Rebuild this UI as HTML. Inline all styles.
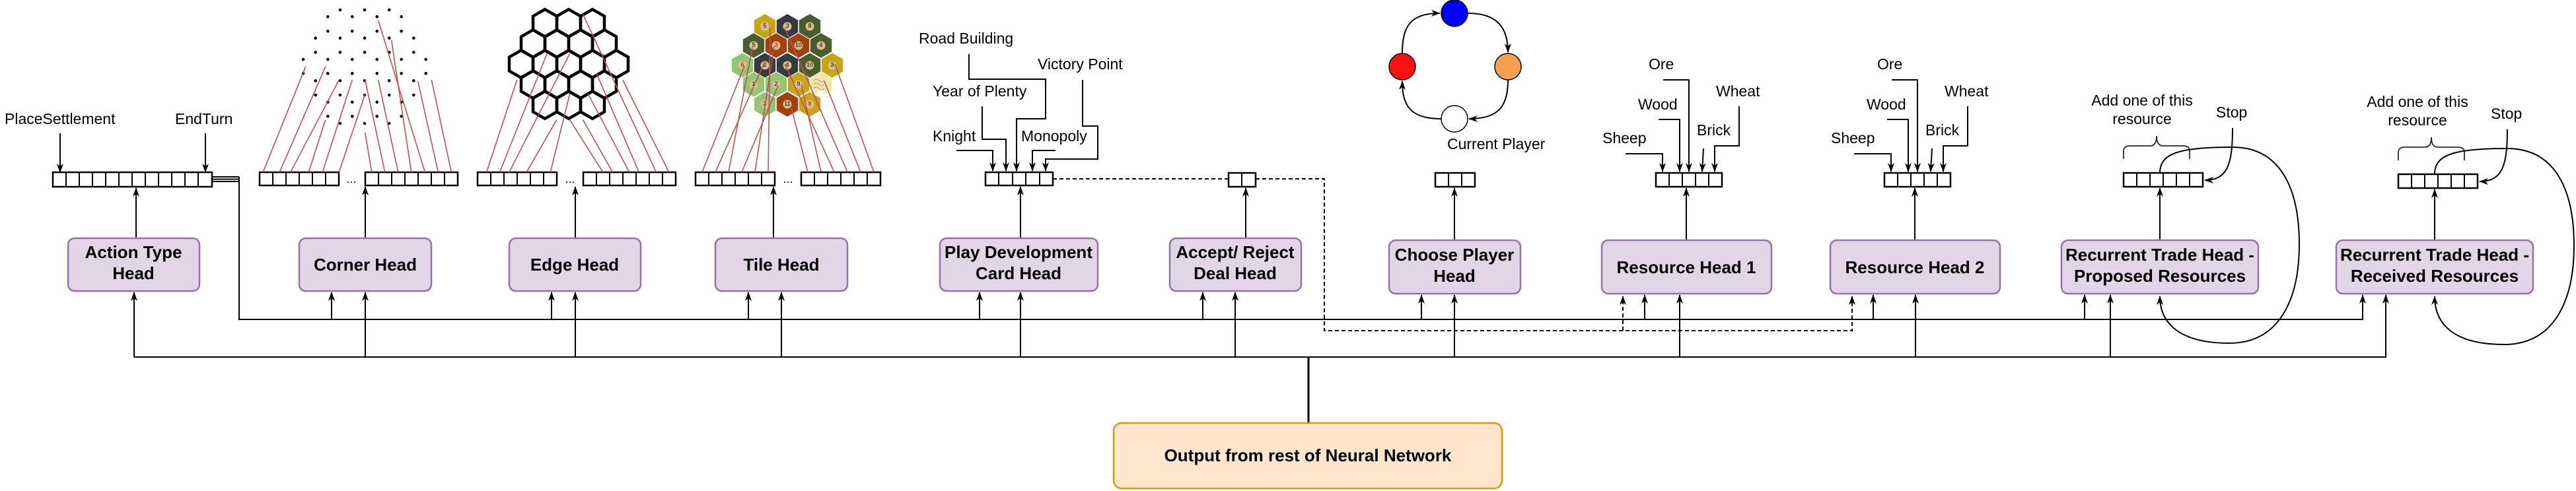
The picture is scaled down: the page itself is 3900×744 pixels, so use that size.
<!DOCTYPE html>
<html><head><meta charset="utf-8"><style>
html,body{margin:0;padding:0;background:#fff;}
svg{display:block;}
.t{font-family:"Liberation Sans",Arial,sans-serif;font-size:23px;fill:#000;dominant-baseline:central;}
.b{font-family:"Liberation Sans",Arial,sans-serif;font-size:26px;font-weight:bold;fill:#000;text-anchor:middle;dominant-baseline:central;}
.n{font-family:"Liberation Sans",Arial,sans-serif;font-size:9px;fill:#000;text-anchor:middle;dominant-baseline:central;}
.box{fill:#e1d5e7;stroke:#9673a6;stroke-width:2.5;}
.v{fill:#fff;stroke:#000;stroke-width:2.5;}
.l{fill:none;stroke:#000;stroke-width:2;}
.r{stroke:#b85450;stroke-width:1.6;}
</style></head><body>
<svg width="3900" height="744" viewBox="0 0 3900 744" xmlns="http://www.w3.org/2000/svg">
<defs>
<marker id="a" viewBox="0 0 14 10" refX="13" refY="5" markerWidth="14" markerHeight="10" markerUnits="userSpaceOnUse" orient="auto"><path d="M0,0 L14,5 L0,10 L4,5z" fill="#000"/></marker>
<polygon id="eh" points="0,-20.8 18,-10.4 18,10.4 0,20.8 -18,10.4 -18,-10.4" fill="none" stroke="#000" stroke-width="4.5"/>
<polygon id="th" points="0,-19.3 16.7,-9.65 16.7,9.65 0,19.3 -16.7,9.65 -16.7,-9.65" stroke="#fff" stroke-width="1"/>
</defs>

<!-- Action type -->
<text class="t" x="7" y="180">PlaceSettlement</text>
<text class="t" x="265" y="180">EndTurn</text>
<path class="l" d="M91,202 V261" marker-end="url(#a)"/>
<path class="l" d="M311,202 V261" marker-end="url(#a)"/>
<g class="v">
<rect x="80" y="261" width="241" height="22"/>
</g>
<path class="l" d="M100,261V283M120,261V283M140,261V283M160,261V283M180,261V283M200,261V283M220,261V283M240,261V283M260,261V283M280,261V283M300,261V283"/>
<path class="l" d="M321,268H362M321,271.5H362M321,275H362M362,268V484H3577V447"/>
<path class="l" d="M206,361V285" marker-end="url(#a)"/>
<rect class="box" x="103" y="361" width="199" height="80" rx="10"/>
<text class="b" x="202" y="382">Action Type</text><text class="b" x="202" y="414">Head</text>

<!-- main line B -->
<path class="l" d="M203,541V443" marker-end="url(#a)"/>
<path class="l" d="M203,541H3612V447" marker-end="url(#a)"/>
<path class="l" d="M3577,484V447" marker-end="url(#a)"/>
<path d="M1981,541V641" stroke="#000" stroke-width="3" fill="none"/>

<!-- branch arrows from A -->
<g class="l">
<path d="M502,484V443" marker-end="url(#a)"/>
<path d="M835,484V443" marker-end="url(#a)"/>
<path d="M1133,484V443" marker-end="url(#a)"/>
<path d="M1483,484V443" marker-end="url(#a)"/>
<path d="M1821,484V443" marker-end="url(#a)"/>
<path d="M2152,484V447" marker-end="url(#a)"/>
<path d="M2490,484V447" marker-end="url(#a)"/>
<path d="M2836,484V447" marker-end="url(#a)"/>
<path d="M3156,484V447" marker-end="url(#a)"/>
<!-- from B -->
<path d="M553,541V443" marker-end="url(#a)"/>
<path d="M871,541V443" marker-end="url(#a)"/>
<path d="M1183,541V443" marker-end="url(#a)"/>
<path d="M1545,541V443" marker-end="url(#a)"/>
<path d="M1870,541V443" marker-end="url(#a)"/>
<path d="M2202,541V447" marker-end="url(#a)"/>
<path d="M2543,541V447" marker-end="url(#a)"/>
<path d="M2900,541V447" marker-end="url(#a)"/>
<path d="M3195,541V447" marker-end="url(#a)"/>
<!-- up from box tops -->
<path d="M553,361V283" marker-end="url(#a)"/>
<path d="M871,361V283" marker-end="url(#a)"/>
<path d="M1171,361V283" marker-end="url(#a)"/>
<path d="M1545,361V283" marker-end="url(#a)"/>
<path d="M1886,361V285" marker-end="url(#a)"/>
<path d="M2202,364V285" marker-end="url(#a)"/>
<path d="M2553,364V285" marker-end="url(#a)"/>
<path d="M2899,364V285" marker-end="url(#a)"/>
<path d="M3270,364V285" marker-end="url(#a)"/>
<path d="M3686,364V287" marker-end="url(#a)"/>
</g>

<!-- dashed -->
<g fill="none" stroke="#000" stroke-width="2" stroke-dasharray="6,4">
<path d="M1594,271H1860M1901,271H2005V501H2804V449" marker-end="url(#a)"/>
<path d="M2457,501V449" marker-end="url(#a)"/>
</g>

<!-- corner/edge/tile vectors -->
<g class="v">
<rect x="393" y="261" width="120" height="20"/><rect x="553" y="261" width="140" height="20"/>
<rect x="723" y="261" width="120" height="20"/><rect x="883" y="261" width="140" height="20"/>
<rect x="1053" y="261" width="120" height="20"/><rect x="1213" y="261" width="120" height="20"/>
</g>
<path class="l" d="M413,261V281M433,261V281M453,261V281M473,261V281M493,261V281
M573,261V281M593,261V281M613,261V281M633,261V281M653,261V281M673,261V281
M743,261V281M763,261V281M783,261V281M803,261V281M823,261V281
M903,261V281M923,261V281M943,261V281M963,261V281M983,261V281M1003,261V281
M1073,261V281M1093,261V281M1113,261V281M1133,261V281M1153,261V281
M1233,261V281M1253,261V281M1273,261V281M1293,261V281M1313,261V281"/>
<text class="t" x="532" y="271" text-anchor="middle" style="font-size:18px">...</text>
<text class="t" x="863" y="271" text-anchor="middle" style="font-size:18px">...</text>
<text class="t" x="1193" y="271" text-anchor="middle" style="font-size:18px">...</text>

<!-- corner dots -->
<g fill="#000">
<circle cx="515" cy="15" r="2.3"/><circle cx="552" cy="15" r="2.3"/><circle cx="589.3" cy="15" r="2.3"/>
<circle cx="496.3" cy="25.3" r="2.3"/><circle cx="533.3" cy="25.3" r="2.3"/><circle cx="570.7" cy="25.3" r="2.3"/><circle cx="607.7" cy="25.3" r="2.3"/>
<circle cx="496.3" cy="47.3" r="2.3"/><circle cx="533.3" cy="47.3" r="2.3"/><circle cx="570.7" cy="47.3" r="2.3"/><circle cx="607.7" cy="47.3" r="2.3"/>
<circle cx="477.7" cy="57.7" r="2.3"/><circle cx="515" cy="57.7" r="2.3"/><circle cx="552" cy="57.7" r="2.3"/><circle cx="589.3" cy="57.7" r="2.3"/><circle cx="626.3" cy="57.7" r="2.3"/>
<circle cx="477.7" cy="79.3" r="2.3"/><circle cx="515" cy="79.3" r="2.3"/><circle cx="552" cy="79.3" r="2.3"/><circle cx="589.3" cy="79.3" r="2.3"/><circle cx="626.3" cy="79.3" r="2.3"/>
<circle cx="459" cy="90" r="2.3"/><circle cx="496.3" cy="90" r="2.3"/><circle cx="533.3" cy="90" r="2.3"/><circle cx="570.7" cy="90" r="2.3"/><circle cx="607.7" cy="90" r="2.3"/><circle cx="644.7" cy="90" r="2.3"/>
<circle cx="459" cy="111.3" r="2.3"/><circle cx="496.3" cy="111.3" r="2.3"/><circle cx="533.3" cy="111.3" r="2.3"/><circle cx="570.7" cy="111.3" r="2.3"/><circle cx="607.7" cy="111.3" r="2.3"/><circle cx="644.7" cy="111.3" r="2.3"/>
<circle cx="477.7" cy="122.3" r="2.3"/><circle cx="515" cy="122.3" r="2.3"/><circle cx="552" cy="122.3" r="2.3"/><circle cx="589.3" cy="122.3" r="2.3"/><circle cx="626.3" cy="122.3" r="2.3"/>
<circle cx="477.7" cy="144" r="2.3"/><circle cx="515" cy="144" r="2.3"/><circle cx="552" cy="144" r="2.3"/><circle cx="589.3" cy="144" r="2.3"/><circle cx="626.3" cy="144" r="2.3"/>
<circle cx="496.3" cy="154.7" r="2.3"/><circle cx="533.3" cy="154.7" r="2.3"/><circle cx="570.7" cy="154.7" r="2.3"/><circle cx="607.7" cy="154.7" r="2.3"/>
<circle cx="496.3" cy="176.3" r="2.3"/><circle cx="533.3" cy="176.3" r="2.3"/><circle cx="570.7" cy="176.3" r="2.3"/><circle cx="607.7" cy="176.3" r="2.3"/>
<circle cx="515" cy="187" r="2.3"/><circle cx="552" cy="187" r="2.3"/><circle cx="589.3" cy="187" r="2.3"/>
</g>
<g class="r">
<line x1="398.3" y1="260.7" x2="462.7" y2="101"/><line x1="423.3" y1="260.7" x2="492.7" y2="101"/>
<line x1="440" y1="260.7" x2="513.3" y2="121"/><line x1="467.3" y1="260.7" x2="492.7" y2="181.7"/>
<line x1="488.3" y1="260.7" x2="533.3" y2="121"/><line x1="513.3" y1="260.7" x2="552.7" y2="142.7"/>
<line x1="562.7" y1="260.7" x2="552.7" y2="201"/><line x1="582.7" y1="260.7" x2="552.7" y2="121"/>
<line x1="602.7" y1="260.7" x2="572.7" y2="121"/><line x1="622.7" y1="260.7" x2="592.7" y2="61"/>
<line x1="643.3" y1="260.7" x2="572.7" y2="31"/><line x1="663.3" y1="260.7" x2="632.7" y2="123.3"/>
<line x1="683.3" y1="260.7" x2="653.3" y2="121"/>
</g>
<rect class="box" x="453" y="361" width="200" height="80" rx="10"/>
<text class="b" x="553" y="401">Corner Head</text>

<!-- edge hex grid -->
<use href="#eh" x="825" y="35"/><use href="#eh" x="861" y="35"/><use href="#eh" x="897" y="35"/>
<use href="#eh" x="807" y="66"/><use href="#eh" x="843" y="66"/><use href="#eh" x="879" y="66"/><use href="#eh" x="915" y="66"/>
<use href="#eh" x="789" y="97"/><use href="#eh" x="825" y="97"/><use href="#eh" x="861" y="97"/><use href="#eh" x="897" y="97"/><use href="#eh" x="933" y="97"/>
<use href="#eh" x="807" y="128"/><use href="#eh" x="843" y="128"/><use href="#eh" x="879" y="128"/><use href="#eh" x="915" y="128"/>
<use href="#eh" x="825" y="159"/><use href="#eh" x="861" y="159"/><use href="#eh" x="897" y="159"/>
<g class="r">
<line x1="736.7" y1="260.7" x2="782.7" y2="121"/><line x1="756.7" y1="260.7" x2="828.3" y2="81"/>
<line x1="771" y1="260.7" x2="862.7" y2="81"/><line x1="797.3" y1="260.7" x2="842.7" y2="181.7"/>
<line x1="833.3" y1="260.7" x2="862.7" y2="141.7"/><line x1="912.7" y1="260.7" x2="862.7" y2="181.7"/>
<line x1="927.3" y1="260.7" x2="882.7" y2="181.7"/><line x1="952.7" y1="260.7" x2="890" y2="141.7"/>
<line x1="967.3" y1="260.7" x2="903.3" y2="111.7"/><line x1="993.3" y1="260.7" x2="882.7" y2="21.7"/>
<line x1="1012.7" y1="260.7" x2="942.7" y2="121"/>
</g>
<rect class="box" x="771" y="361" width="199" height="80" rx="10"/>
<text class="b" x="870" y="401">Edge Head</text>

<!-- tile board -->
<use href="#th" x="1158" y="40" fill="#c8a41a"/><use href="#th" x="1192" y="40" fill="#353c3e"/><use href="#th" x="1226" y="40" fill="#4b5d2f"/>
<use href="#th" x="1141" y="69" fill="#4b5d2f"/><use href="#th" x="1175" y="69" fill="#a4400f"/><use href="#th" x="1209" y="69" fill="#a4400f"/><use href="#th" x="1243" y="69" fill="#4b5d2f"/>
<use href="#th" x="1124" y="99" fill="#93c572"/><use href="#th" x="1158" y="99" fill="#353c3e"/><use href="#th" x="1192" y="99" fill="#353c3e"/><use href="#th" x="1226" y="99" fill="#4b5d2f"/><use href="#th" x="1260" y="99" fill="#c8a41a"/>
<use href="#th" x="1141" y="128" fill="#93c572"/><use href="#th" x="1175" y="128" fill="#93c572"/><use href="#th" x="1209" y="128" fill="#c8a41a"/><use href="#th" x="1243" y="128" fill="#f3e6a4"/>
<use href="#th" x="1158" y="158" fill="#93c572"/><use href="#th" x="1192" y="158" fill="#a4400f"/><use href="#th" x="1226" y="158" fill="#c8a41a"/>
<g fill="#d8c08c">
<circle cx="1158" cy="40" r="6.5"/><circle cx="1192" cy="40" r="6.5"/><circle cx="1226" cy="40" r="6.5"/>
<circle cx="1141" cy="69" r="6.5"/><circle cx="1175" cy="69" r="6.5"/><circle cx="1209" cy="69" r="6.5"/><circle cx="1243" cy="69" r="6.5"/>
<circle cx="1124" cy="99" r="6.5"/><circle cx="1158" cy="99" r="6.5"/><circle cx="1192" cy="99" r="6.5"/><circle cx="1226" cy="99" r="6.5"/><circle cx="1260" cy="99" r="6.5"/>
<circle cx="1141" cy="128" r="6.5"/><circle cx="1175" cy="128" r="6.5"/><circle cx="1209" cy="128" r="6.5"/>
<circle cx="1158" cy="158" r="6.5"/><circle cx="1192" cy="158" r="6.5"/><circle cx="1226" cy="158" r="6.5"/>
</g>
<circle cx="1243" cy="142" r="6" fill="#fff"/>
<path d="M1232,122 q4,-4 8,0 t8,0 M1232,128 q4,-4 8,0 t8,0 M1232,134 q4,-4 8,0 t8,0" fill="none" stroke="#a09a80" stroke-width="1"/>
<text class="n" x="1158" y="39">5</text><text class="n" x="1192" y="39">3</text><text class="n" x="1226" y="39" fill="#e00">8</text>
<text class="n" x="1141" y="68">5</text><text class="n" x="1175" y="68" style="fill:#e00">3</text><text class="n" x="1209" y="68">10</text><text class="n" x="1243" y="68">4</text>
<text class="n" x="1124" y="98" style="fill:#e00">6</text><text class="n" x="1158" y="98">2</text><text class="n" x="1192" y="98">4</text><text class="n" x="1226" y="98">10</text><text class="n" x="1260" y="98">3</text>
<text class="n" x="1141" y="127">1</text><text class="n" x="1175" y="127">2</text><text class="n" x="1209" y="127">9</text>
<text class="n" x="1158" y="157">3</text><text class="n" x="1192" y="157">11</text><text class="n" x="1226" y="157" style="fill:#e00">8</text>
<g class="r" stroke-width="2">
<line x1="1063" y1="260.7" x2="1127" y2="100"/><line x1="1083" y1="260.7" x2="1159" y2="91"/>
<line x1="1103" y1="260.7" x2="1139" y2="72"/><line x1="1123" y1="260.7" x2="1178" y2="130"/>
<line x1="1143" y1="260.7" x2="1172" y2="70"/><line x1="1163" y1="260.7" x2="1166" y2="42"/>
<line x1="1223" y1="260.7" x2="1198" y2="163"/><line x1="1243" y1="260.7" x2="1213" y2="128"/>
<line x1="1263" y1="260.7" x2="1188" y2="97"/><line x1="1283" y1="260.7" x2="1188" y2="42"/>
<line x1="1303" y1="260.7" x2="1248" y2="123"/><line x1="1323" y1="260.7" x2="1264" y2="97"/>
</g>
<rect class="box" x="1083" y="361" width="200" height="80" rx="10"/>
<text class="b" x="1183" y="401">Tile Head</text>

<!-- Play dev -->
<text class="t" x="1391" y="58">Road Building</text>
<text class="t" x="1412" y="138">Year of Plenty</text>
<text class="t" x="1571" y="97">Victory Point</text>
<text class="t" x="1412" y="206">Knight</text>
<text class="t" x="1546" y="206">Monopoly</text>
<g class="l">
<path d="M1467,82V120H1583V180H1539V259" marker-end="url(#a)"/>
<path d="M1487,161V211H1523V259" marker-end="url(#a)"/>
<path d="M1448,228H1503V259" marker-end="url(#a)"/>
<path d="M1598,228H1563V259" marker-end="url(#a)"/>
<path d="M1639,121V191H1662V241H1583V259" marker-end="url(#a)"/>
</g>
<rect class="v" x="1492" y="261" width="102" height="20"/>
<path class="l" d="M1512,261V281M1533,261V281M1553,261V281M1574,261V281"/>
<rect class="box" x="1423" y="361" width="239" height="80" rx="10"/>
<text class="b" x="1542" y="382">Play Development</text><text class="b" x="1542" y="414">Card Head</text>

<!-- Accept -->
<rect class="v" x="1860" y="262" width="41" height="21"/>
<path class="l" d="M1880,262V283"/>
<rect class="box" x="1771" y="361" width="199" height="80" rx="10"/>
<text class="b" x="1870" y="382">Accept/ Reject</text><text class="b" x="1870" y="414">Deal Head</text>

<!-- Choose player -->
<g class="l">
<path d="M2123,81C2123,40 2135,20 2180,20" marker-end="url(#a)"/>
<path d="M2222,20C2265,20 2283,40 2283,79" marker-end="url(#a)"/>
<path d="M2283,121C2283,160 2270,180 2224,180" marker-end="url(#a)"/>
<path d="M2182,180C2135,180 2123,160 2123,123" marker-end="url(#a)"/>
</g>
<circle cx="2202" cy="20" r="20" fill="#0000ff" stroke="#000" stroke-width="1.5"/>
<circle cx="2123" cy="101" r="20" fill="#ff1111" stroke="#000" stroke-width="1.5"/>
<circle cx="2283" cy="101" r="20" fill="#f5a050" stroke="#000" stroke-width="1.5"/>
<circle cx="2202" cy="180" r="20" fill="#fff" stroke="#000" stroke-width="1.5"/>
<text class="t" x="2191" y="218">Current Player</text>
<rect class="v" x="2173" y="262" width="60" height="21"/>
<path class="l" d="M2193,262V283M2213,262V283"/>
<rect class="box" x="2103" y="364" width="199" height="81" rx="10"/>
<text class="b" x="2202" y="386">Choose Player</text><text class="b" x="2202" y="418">Head</text>

<!-- Resource head 1 -->
<text class="t" x="2426" y="209">Sheep</text>
<text class="t" x="2480" y="158">Wood</text>
<text class="t" x="2496" y="97">Ore</text>
<text class="t" x="2569" y="197">Brick</text>
<text class="t" x="2598" y="138">Wheat</text>
<g class="l">
<path d="M2461,233H2517V260" marker-end="url(#a)"/>
<path d="M2511,181H2543V260" marker-end="url(#a)"/>
<path d="M2518,121H2557V260" marker-end="url(#a)"/>
<path d="M2579,225L2577,260" marker-end="url(#a)"/>
<path d="M2633,161V221H2596V260" marker-end="url(#a)"/>
</g>
<rect class="v" x="2507" y="262" width="100" height="21"/>
<path class="l" d="M2527,262V283M2547,262V283M2567,262V283M2587,262V283"/>
<rect class="box" x="2425" y="364" width="257" height="81" rx="10"/>
<text class="b" x="2553" y="405">Resource Head 1</text>

<!-- Resource head 2 -->
<text class="t" x="2772" y="209">Sheep</text>
<text class="t" x="2826" y="158">Wood</text>
<text class="t" x="2842" y="97">Ore</text>
<text class="t" x="2915" y="197">Brick</text>
<text class="t" x="2944" y="138">Wheat</text>
<g class="l">
<path d="M2807,233H2863V260" marker-end="url(#a)"/>
<path d="M2857,181H2889V260" marker-end="url(#a)"/>
<path d="M2864,121H2903V260" marker-end="url(#a)"/>
<path d="M2925,225L2923,260" marker-end="url(#a)"/>
<path d="M2979,161V221H2942V260" marker-end="url(#a)"/>
</g>
<rect class="v" x="2853" y="262" width="100" height="21"/>
<path class="l" d="M2873,262V283M2893,262V283M2913,262V283M2933,262V283"/>
<rect class="box" x="2771" y="364" width="257" height="81" rx="10"/>
<text class="b" x="2899" y="405">Resource Head 2</text>

<!-- Trade proposed -->
<text class="t" x="3243" y="152" text-anchor="middle">Add one of this</text>
<text class="t" x="3243" y="180" text-anchor="middle">resource</text>
<text class="t" x="3355" y="170">Stop</text>
<path d="M3215,241V229Q3215,221 3225,221H3255Q3265,221 3265,206Q3265,221 3275,221H3305Q3315,221 3315,229V241" fill="none" stroke="#3a2020" stroke-width="1.8"/>
<rect class="v" x="3215" y="262" width="120" height="21"/>
<path class="l" d="M3235,262V283M3255,262V283M3275,262V283M3295,262V283M3315,262V283"/>
<g class="l">
<path d="M3380,194C3380,250 3372,273 3338,273" marker-end="url(#a)"/>
<path d="M3270,262C3270,232 3300,223 3380,223C3455,223 3481,290 3481,370C3481,455 3450,520 3375,520C3300,520 3270,490 3270,449" marker-end="url(#a)"/>
</g>
<rect class="box" x="3121" y="364" width="298" height="81" rx="10"/>
<text class="b" x="3270" y="386">Recurrent Trade Head -</text><text class="b" x="3270" y="418">Proposed Resources</text>

<!-- Trade received -->
<text class="t" x="3660" y="154" text-anchor="middle">Add one of this</text>
<text class="t" x="3660" y="182" text-anchor="middle">resource</text>
<text class="t" x="3771" y="172">Stop</text>
<path d="M3631,243V231Q3631,223 3641,223H3671Q3681,223 3681,208Q3681,223 3691,223H3721Q3731,223 3731,231V243" fill="none" stroke="#3a2020" stroke-width="1.8"/>
<rect class="v" x="3631" y="264" width="120" height="21"/>
<path class="l" d="M3651,264V285M3671,264V285M3691,264V285M3711,264V285M3731,264V285"/>
<g class="l">
<path d="M3796,196C3796,252 3788,275 3754,275" marker-end="url(#a)"/>
<path d="M3686,264C3686,234 3716,225 3796,225C3871,225 3897,292 3897,372C3897,457 3866,522 3791,522C3716,522 3686,492 3686,449" marker-end="url(#a)"/>
</g>
<rect class="box" x="3537" y="364" width="298" height="81" rx="10"/>
<text class="b" x="3686" y="386">Recurrent Trade Head -</text><text class="b" x="3686" y="418">Received Resources</text>

<!-- Output -->
<rect x="1686" y="641" width="588" height="99" rx="12" fill="#ffe6cc" stroke="#d79b00" stroke-width="2.5"/>
<text class="b" x="1980" y="690">Output from rest of Neural Network</text>
</svg>
</body></html>
